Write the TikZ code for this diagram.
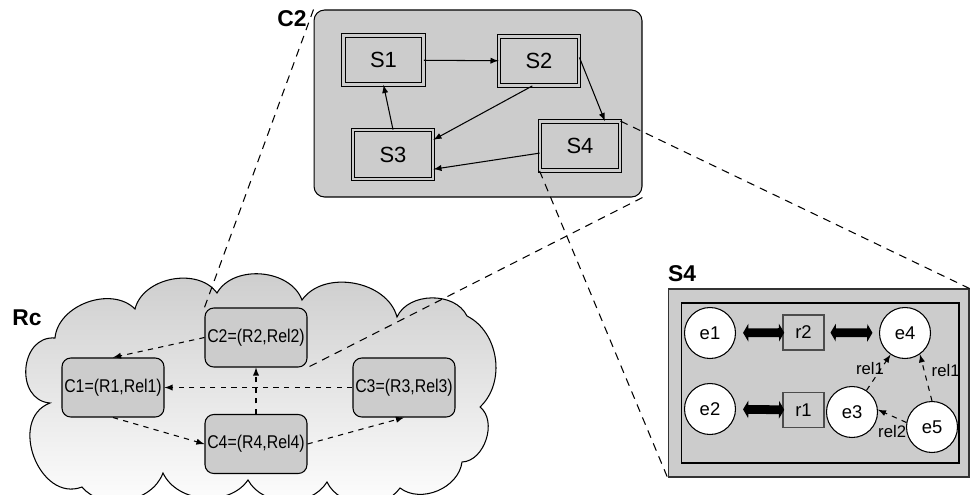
\documentclass[tikz,border=0pt]{standalone}
\usepackage{fontspec}
\setmainfont{Liberation Sans}
\newfontfamily\narrowfont[FakeStretch=0.86]{Liberation Sans}
\usetikzlibrary{arrows.meta}
\colorlet{boxgray}{black!20}
\tikzset{
  % node options
  region/.style={rectangle,rounded corners=6pt,draw,fill=boxgray},
  concept/.style={rectangle,rounded corners=5pt,draw,fill=boxgray,
    minimum width=2.04cm,minimum height=1.18cm,inner sep=1pt,
    font=\narrowfont\fontsize{10.5}{12}\selectfont},
  sbox/.style={rectangle,draw,double=boxgray,double distance=1.5pt,
    line width=0.5pt,fill=boxgray,minimum width=1.6cm,minimum height=0.98cm,
    font=\fontsize{12.5}{14}\selectfont},
  entity/.style={circle,draw,fill=white,minimum size=1.02cm,inner sep=0pt,
    font=\fontsize{10.5}{12}\selectfont},
  rbox/.style={rectangle,draw=black!70,fill=boxgray,minimum width=0.82cm,
    minimum height=0.7cm,font=\fontsize{10.5}{12}\selectfont},
  title/.style={font=\bfseries\fontsize{13}{15}\selectfont},
  rellabel/.style={font=\fontsize{9.5}{11}\selectfont,inner sep=1pt},
  % path options
  link/.style={->},
  cluelink/.style={->,dashed},
  zoomline/.style={dash pattern=on 4.5pt off 3.5pt},
  biglink/.style={{Triangle[length=3pt,width=10pt]}-{Triangle[length=3pt,width=10pt]},
    line width=5pt},
  cloudfill/.style={draw,top color=boxgray,bottom color=white},
}

\begin{document}
\begin{tikzpicture}[x=0.02cm,y=-0.02cm,>=latex,semithick]
  \useasboundingbox (0,0) rectangle (970,494);

  % the cloud Rc
  \path[cloudfill] (50,403) to[bend left=90,looseness=1.4] (55,338)
    to[bend left=65] (135,309) to[bend left=65] (217,293) to[bend left=65] (302,300)
    to[bend left=65] (397,317) to[bend left=65] (467,316) to[bend left=55] (480,407)
    to[bend left=70] (462,462) to[bend left=60] (400,488) to[bend left=60] (327,482)
    to[bend left=60] (248,480) to[bend left=60] (163,473) to[bend left=60] (82,487)
    to[bend left=90,looseness=1.3] cycle;
  \node[title] (rc) at (27,318) {Rc};
  \node[concept] (C2) at (256,337.5) {C2=(R2,Rel2)};
  \node[concept] (C1) at (113,387.5) {C1=(R1,Rel1)};
  \node[concept] (C3) at (404,387.5) {C3=(R3,Rel3)};
  \node[concept] (C4) at (256,444) {C4=(R4,Rel4)};
  \draw[cluelink] (C2.west) -- (C1.north);
  \draw[cluelink] (C3) -- (C1);
  \draw[cluelink] (C4) -- (C2);
  \draw[cluelink] (C1.south) -- (C4.west);
  \draw[cluelink] (C4.east) -- (C3.south);

  % C2 in detail
  \node[region,minimum width=6.56cm,minimum height=3.74cm] (c2box) at (478,103.5) {};
  \node[title] (c2title) at (292,19) {C2};
  \node[sbox] (S1) at (383.5,60) {S1};
  \node[sbox] (S2) at (539,61) {S2};
  \node[sbox] (S3) at (393,154.5) {S3};
  \node[sbox] (S4) at (580,146) {S4};
  \draw[link] (S1) -- (S2);
  \draw[link] (S2.5) -- (S4.45);
  \draw[link] (S2.-105) -- (S3.20);
  \draw[link] (S4.190) -- (S3.-20);
  \draw[link] (S3.north) -- (S1.south);

  % S4 in detail
  \node[rectangle,draw=black!80,fill=boxgray,minimum width=6.02cm,minimum height=3.76cm]
    (s4box) at (818.5,383) {};
  \node[rectangle,draw,fill=boxgray,minimum width=5.56cm,minimum height=3.2cm]
    (s4inner) at (820,383) {};
  \node[title] (s4title) at (682,274) {S4};
  \node[entity] (e1) at (710,333) {e1};
  \node[entity] (e2) at (710,409) {e2};
  \node[entity] (e4) at (905,333) {e4};
  \node[entity] (e3) at (852,412) {e3};
  \node[entity] (e5) at (932,427) {e5};
  \node[rbox] (r2) at (803.5,332.5) {r2};
  \node[rbox] (r1) at (803.5,410) {r1};
  \draw[biglink,shorten <=4pt,shorten >=-1pt] (e1) -- (r2);
  \draw[biglink,shorten <=3.4pt,shorten >=3.7pt] (r2) -- (e4);
  \draw[biglink,shorten <=4pt,shorten >=-1pt] (e2) -- (r1);
  \draw[cluelink] (e3) -- node[rellabel,pos=0.6,left=-3pt] {rel1} (e4);
  \draw[cluelink] (e5.north) -- node[rellabel,pos=0.65,right=3pt] {rel1} (e4.-55);
  \draw[cluelink] (e5.170) -- node[rellabel,below=4pt] {rel2} (e3.5);

  % zoom lines
  \draw[zoomline] (c2box.north west) -- (C2.north west);
  \draw[zoomline] (c2box.south east) -- (C2.south east);
  \draw[zoomline] (S4.north east) -- (s4box.north east);
  \draw[zoomline] (S4.south west) -- (s4box.south west);
\end{tikzpicture}
\end{document}
